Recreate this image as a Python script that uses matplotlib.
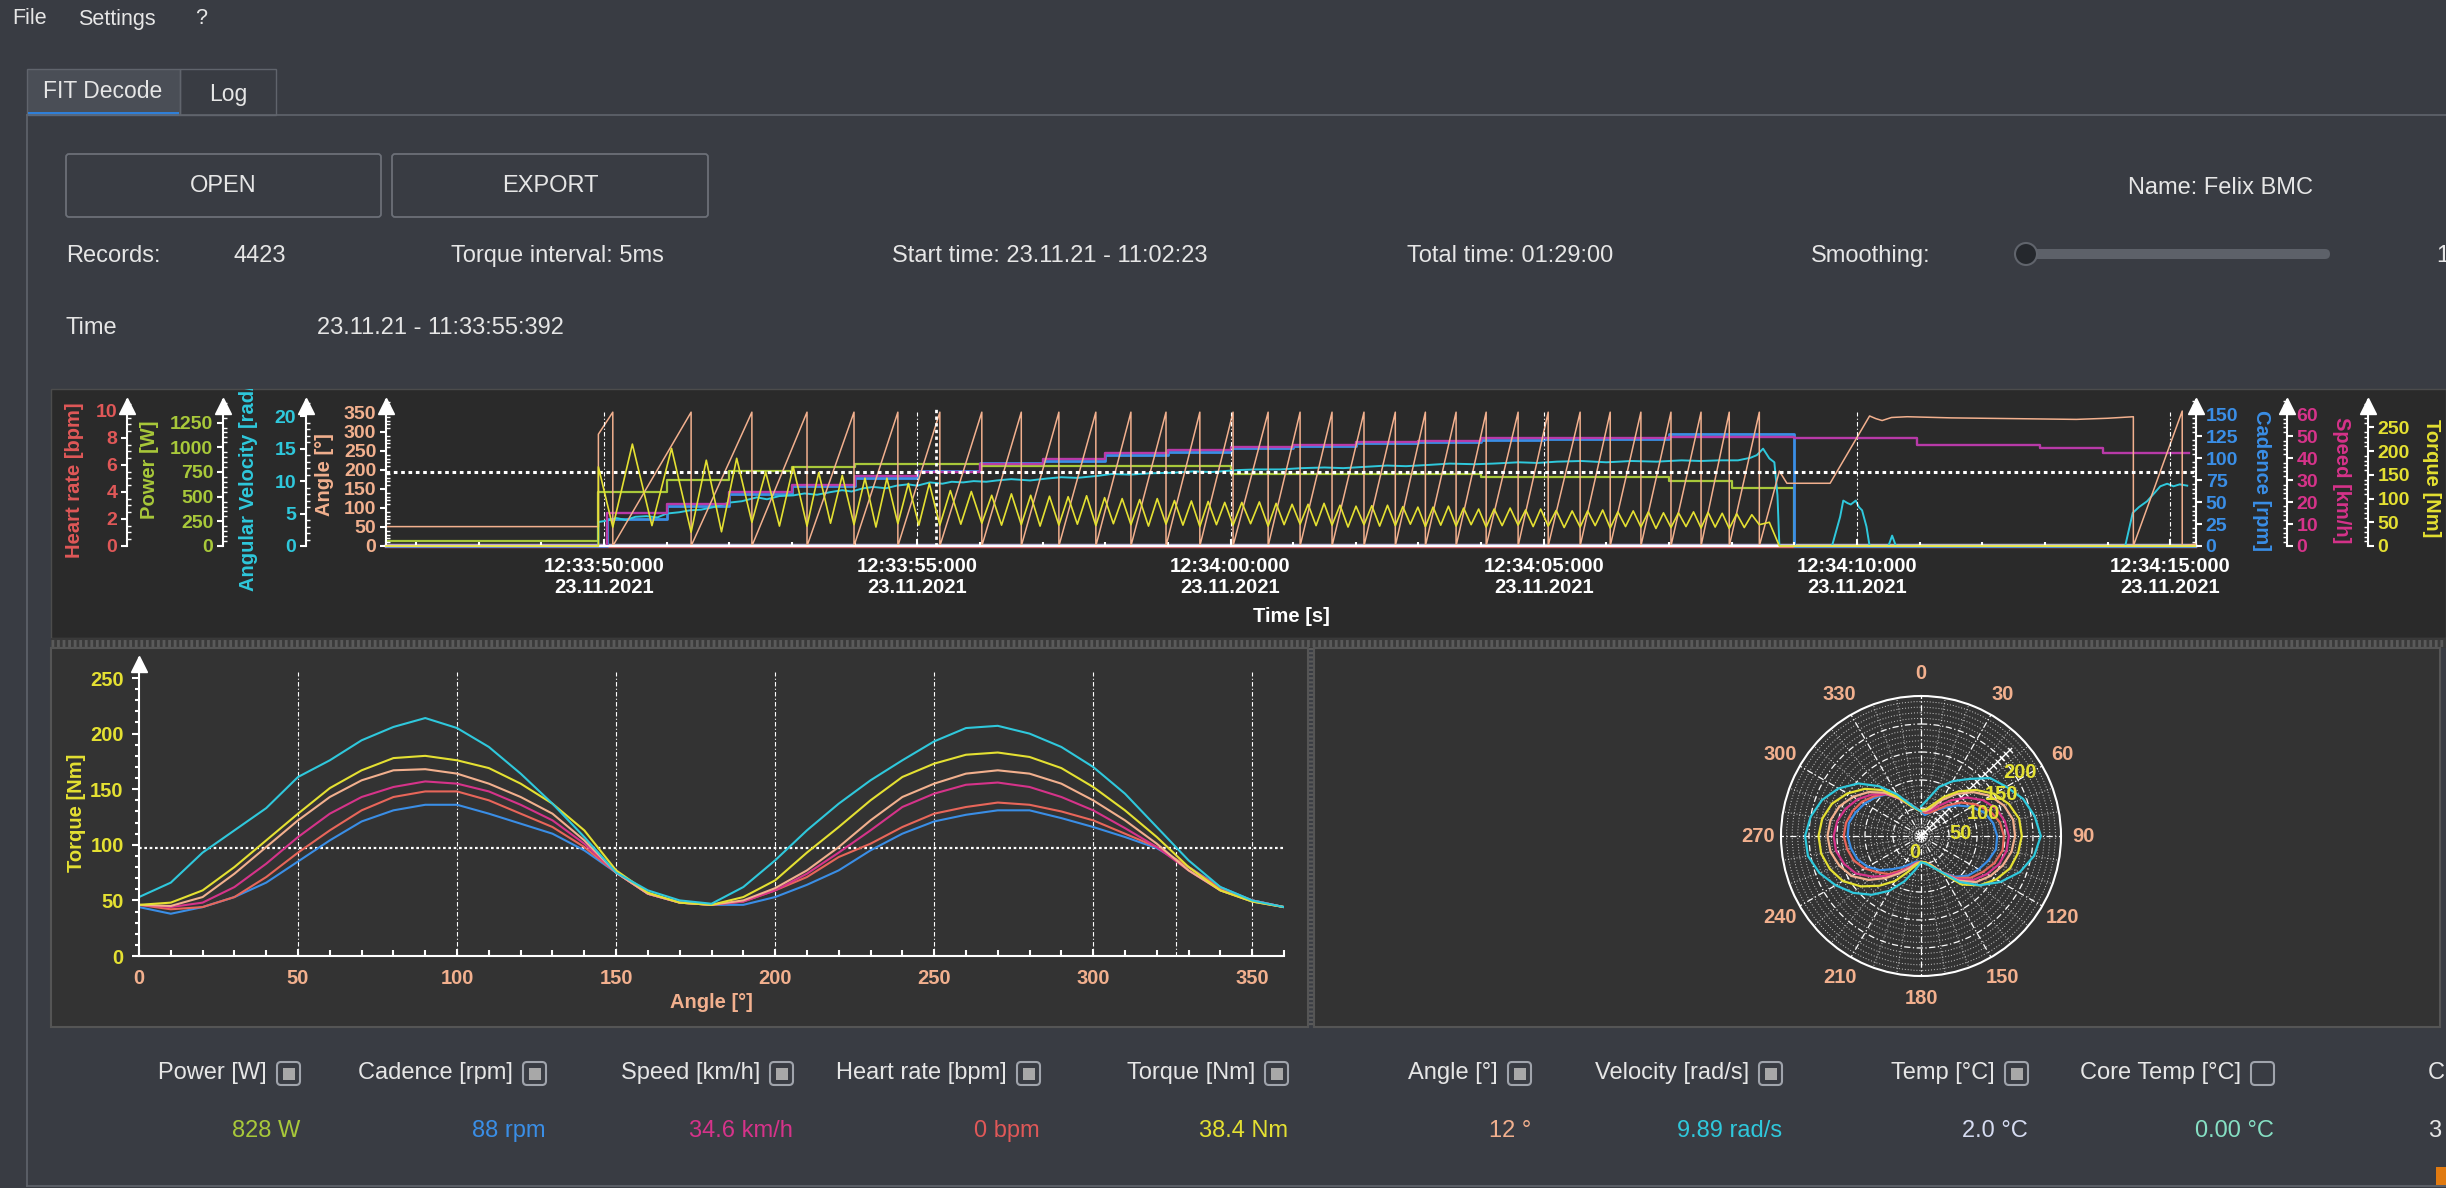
import numpy as np
import matplotlib
matplotlib.use("Agg")
import matplotlib.pyplot as plt
from matplotlib.patches import Rectangle, FancyBboxPatch, Circle
from matplotlib.ticker import MultipleLocator, FixedLocator
from matplotlib.transforms import Bbox, TransformedBbox

W, H = 2446, 1188

# ---------------- data ----------------
# time axis: seconds after 12:33:50
t_major = [0, 5, 10, 15, 20, 25]
t_labels = ["12:33:50:000\n23.11.2021", "12:33:55:000\n23.11.2021", "12:34:00:000\n23.11.2021",
            "12:34:05:000\n23.11.2021", "12:34:10:000\n23.11.2021", "12:34:15:000\n23.11.2021"]
t_min, t_max = -3.48, 25.41

# crank angle resets (end of each revolution)
rev_t = [0.14, 1.39, 2.36, 3.24, 3.99, 4.69, 5.36, 6.03, 6.66, 7.26, 7.85, 8.41, 8.97, 9.51,
         10.04, 10.60, 11.11, 11.62, 12.13, 12.63, 13.11, 13.60, 14.08, 14.59, 15.07, 15.58,
         16.06, 16.55, 17.03, 17.51, 17.96, 18.44]
angle_top = 352
angle_head_t = [t_min, -0.09, -0.09, 0.14]
angle_head_v = [51, 51, 294, angle_top]
angle_tail_t = [18.44, 18.76, 18.88, 19.57, 20.2, 20.3, 20.4, 20.55, 20.8, 21.5, 22.5, 23.5,
                24.0, 24.41, 24.41, 25.19, 25.19, 25.4]
angle_tail_v = [0, 197, 165, 165, 342, 335, 330, 338, 340, 337, 335, 333, 336, 340, 0, 355, 0, 5]

# torque in the time chart: two peaks and two troughs per revolution
torque_peaks = [215, 206, 181, 185, 156, 167, 155, 149, 143, 143, 132, 132, 117, 115, 107, 110,
                107, 105, 104, 106, 102, 100, 98, 100, 96, 95, 94, 92, 92, 93, 90, 88, 88, 90,
                86, 84, 85, 86, 83, 82, 82, 84, 80, 78, 78, 80, 76, 78, 75, 74, 74, 76, 72, 74,
                72, 70, 70, 72, 71, 69, 68, 66]
torque_troughs = [40, 43, 29, 30, 50, 42, 42, 48, 45, 40, 47, 44, 44, 46, 48, 44, 45, 42, 44, 46,
                  43, 47, 45, 42, 46, 44, 41, 45, 44, 47, 42, 45, 46, 43, 44, 40, 45, 42, 43, 46,
                  41, 44, 42, 45, 40, 43, 44, 41, 42, 39, 40, 43, 38, 41, 40, 37, 39, 41, 38, 40,
                  37, 39]
torque_head_t = [t_min, -0.09, -0.09]
torque_head_v = [0, 0, 167]
torque_tail_t = [18.44, 18.6, 18.76, 25.4]
torque_tail_v = [45, 50, 0, 0]

# 1 s records
cad_t = [t_min, 0.04, 1, 2, 3, 4, 5, 6, 7, 8, 9, 10, 11, 12, 13, 14, 15, 16, 17, 18, 19, 25.4]
cad_v = [0, 31, 46, 59, 68, 77, 85, 94, 97, 104, 107, 111, 114, 117, 118, 120, 122, 122, 127, 127, 0, 0]
speed_t = [t_min, 0.04, 1, 2, 3, 4, 5, 6, 7, 8, 9, 10, 11, 12, 13, 14, 15, 17, 19, 20.96, 22.92, 23.93, 25.3]
speed_v = [0, 15.1, 19.2, 24.5, 27.9, 32.1, 33.9, 37.4, 39.7, 42.3, 43.5, 45.0, 46.2, 47.3, 48.0, 49.0,
           49.3, 49.5, 49.1, 45.8, 44.6, 42.5, 42.5]
power_t = [t_min, -0.09, 1, 2, 3, 4, 6, 10, 14, 17, 18, 19, 25.4]
power_v = [55, 543, 670, 761, 801, 835, 811, 730, 694, 660, 590, 0, 0]
hr_t = [t_min, 25.4]
hr_v = [0, 0]
temp_t = [t_min, 25.4]
temp_v = [2.0, 2.0]

av_t = [t_min, -0.09, -0.09, 0.04, 0.2, 0.35, 0.5, 0.68, 0.85, 1.0, 1.2, 1.37, 1.55, 1.75, 2.01, 2.2,
        2.44, 2.6, 2.8, 3.02, 3.2, 3.4, 3.61, 3.8, 3.95, 4.14, 4.3, 4.5, 4.67, 4.85, 5.0, 5.2, 5.4,
        5.55, 5.73, 5.9, 6.1, 6.27, 6.5, 6.8, 7.07, 7.3, 7.55, 7.87, 8.1, 8.4, 8.7, 9.1, 9.4, 9.7,
        10.12, 10.4, 10.8, 11.14, 11.5, 11.8, 12.15, 12.5, 12.8, 13.17, 13.5, 13.9, 14.19, 14.6,
        14.9, 15.21, 15.6, 16.0, 16.4, 16.8, 17.2, 17.5, 17.8, 18.1, 18.3, 18.4, 18.5, 18.6, 18.68,
        18.73, 18.76, 19.6, 19.73, 19.78, 19.85, 19.9, 19.98, 20.03, 20.08, 20.15, 20.2, 20.5,
        20.56, 20.62, 24.28, 24.4, 24.5, 24.63, 24.75, 24.84, 24.95, 25.05, 25.15, 25.27]
av_v = [0, 0, 3.7, 3.9, 4.3, 4.0, 4.5, 4.6, 4.4, 5.0, 5.2, 5.5, 5.6, 6.0, 6.7, 6.9,
        7.5, 7.2, 7.7, 7.8, 8.1, 7.9, 8.3, 8.6, 8.4, 8.9, 9.1, 8.9, 9.3, 9.5, 9.3, 9.8, 9.6,
        9.9, 9.8, 10.0, 9.9, 10.1, 10.3, 10.1, 10.4, 10.6, 10.5, 10.8, 11.1, 11.0, 11.2, 11.3, 11.5, 11.4,
        11.7, 11.8, 11.8, 12.0, 12.1, 12.0, 12.2, 12.4, 12.3, 12.5, 12.7, 12.6, 12.7, 12.9,
        12.8, 13.0, 13.1, 12.9, 13.1, 13.0, 13.2, 13.1, 13.2, 13.2, 13.6, 14.0, 15.0, 13.5, 12.9,
        7.8, 0, 0, 4.5, 7.0, 6.6, 6.4, 7.0, 6.0, 5.5, 3.0, 0, 0,
        1.6, 0, 0, 5.1, 6.0, 6.9, 8.2, 9.2, 9.6, 9.2, 9.5, 9.3]

cross_t, cross_angle = 5.3, 194

# torque over crank angle (one curve per revolution)
crank_deg = list(range(0, 361, 10))
tq_cyan = [53, 66, 93, 113, 133, 161, 176, 194, 206, 214, 205, 188, 164, 137, 107, 75, 59, 50, 47,
           62, 86, 113, 137, 158, 176, 193, 205, 207, 200, 188, 170, 146, 116, 86, 62, 50, 44]
tq_yellow = [46, 48, 59, 80, 104, 128, 151, 167, 178, 180, 176, 169, 155, 137, 113, 77, 57, 48, 46,
             53, 68, 93, 116, 140, 161, 173, 181, 183, 179, 169, 152, 131, 107, 80, 59, 49, 44]
tq_peach = [46, 45, 53, 74, 98, 122, 143, 158, 167, 168, 164, 155, 143, 128, 104, 75, 56, 48, 46,
            50, 61, 77, 98, 122, 143, 155, 164, 167, 164, 155, 140, 122, 101, 77, 59, 49, 44]
tq_magenta = [46, 44, 48, 62, 83, 107, 128, 143, 152, 157, 155, 148, 136, 122, 101, 75, 56, 48, 46,
              49, 59, 74, 93, 113, 134, 146, 154, 156, 152, 143, 131, 115, 98, 77, 59, 50, 44]
tq_red = [46, 42, 44, 53, 71, 93, 113, 131, 143, 148, 148, 140, 128, 116, 98, 75, 56, 48, 46,
          49, 59, 71, 89, 101, 116, 128, 134, 138, 136, 130, 122, 110, 98, 80, 61, 50, 44]
tq_blue = [44, 38, 44, 53, 66, 85, 104, 121, 131, 136, 136, 128, 119, 110, 95, 75, 56, 48, 46,
           46, 53, 64, 77, 95, 110, 121, 127, 131, 131, 124, 116, 107, 97, 80, 62, 50, 44]
cross_deg, cross_torque = 326, 97

# polar radial labels (value, label angle, label radius)
polar_r_ticks = [0, 50, 100, 150, 200]
polar_r_label_deg = [199, 86, 70, 63, 57.5]
polar_r_label_r = [32, 70, 118, 162, 210]

# bottom value row
legend_names = ["Power [W]", "Cadence [rpm]", "Speed [km/h]", "Heart rate [bpm]", "Torque [Nm]",
                "Angle [°]", "Velocity [rad/s]", "Temp [°C]", "Core Temp [°C]"]
legend_values = ["828 W", "88 rpm", "34.6 km/h", "0 bpm", "38.4 Nm", "12 °", "9.89 rad/s",
                 "2.0 °C", "0.00 °C"]
legend_checked = [True, True, True, True, True, True, True, True, False]

# ---------------- style ----------------
GUI_BG = "#393c43"
TOP_BG = "#2a2a2a"
BOT_BG = "#333333"
TXT = "#e6e6e6"
RED = "#e05858"
GREEN = "#a8c83a"
CYAN = "#2fc8dc"
PEACH = "#f2b08e"
BLUE = "#3a8ee6"
MAGENTA = "#d6338a"
YELLOW = "#e4e032"
LAV = "#b8b2d6"
MINT = "#86e0c4"
value_colors = [GREEN, BLUE, MAGENTA, RED, YELLOW, PEACH, CYAN, "#d6dcf2", MINT]
FS = 14.5

plt.rcParams["font.family"] = ["Liberation Sans", "DejaVu Sans"]
plt.rcParams["font.weight"] = "bold"

fig = plt.figure(figsize=(W / 100, H / 100), dpi=100, facecolor=GUI_BG)

# pixel canvas for the window chrome
bg = fig.add_axes([0, 0, 1, 1])
bg.set_xlim(0, W)
bg.set_ylim(H, 0)
bg.axis("off")
bg.set_zorder(-5)


def rect(x0, y0, x1, y1):
    return [x0 / W, 1 - y1 / H, (x1 - x0) / W, (y1 - y0) / H]


def box(x0, y0, x1, y1, **kw):
    bg.add_patch(Rectangle((x0, y0), x1 - x0, y1 - y0, **kw))


def gui_text(x, y, s, size=17, color=TXT, **kw):
    bg.text(x, y, s, fontsize=size, color=color, va="center", fontweight="normal", **kw)


def bold_ticks(a):
    for lbl in a.get_xticklabels() + a.get_yticklabels():
        lbl.set_fontweight("bold")


# menu + tabs
gui_text(12, 19, "File", size=15.5)
gui_text(78, 19, "Settings", size=15.5)
gui_text(195, 19, "?", size=15.5)
box(27, 69, 180, 115, fc="#4a4e56", ec="#60646c", lw=1)
box(28, 112, 179, 116, fc="#2f7fd8", ec="none")
box(180, 69, 276, 115, fc="none", ec="#60646c", lw=1)
gui_text(103, 92, "FIT Decode", size=16.5, ha="center")
gui_text(228, 94, "Log", size=16.5, ha="center")
bg.plot([27, W], [115, 115], color="#60646c", lw=1.2)
bg.plot([27, 27], [115, 1186], color="#60646c", lw=1.2)
bg.plot([27, W], [1186, 1186], color="#60646c", lw=1.2)

# buttons
for x0, x1, s in [(66, 381, "OPEN"), (392, 708, "EXPORT")]:
    bg.add_patch(FancyBboxPatch((x0, 154), x1 - x0, 63, boxstyle="round,pad=0,rounding_size=3",
                                fc=GUI_BG, ec="#6c7078", lw=1.3))
    gui_text((x0 + x1) / 2, 186, s, ha="center")

gui_text(2128, 188, "Name: Felix BMC")
gui_text(66, 256, "Records:")
gui_text(233, 256, "4423")
gui_text(451, 256, "Torque interval: 5ms")
gui_text(892, 256, "Start time: 23.11.21 - 11:02:23")
gui_text(1407, 256, "Total time: 01:29:00")
gui_text(1811, 256, "Smoothing:")
gui_text(2436, 256, "1")
gui_text(66, 328, "Time")
gui_text(317, 328, "23.11.21 - 11:33:55:392")
bg.add_patch(FancyBboxPatch((2026, 249), 304, 10, boxstyle="round,pad=0,rounding_size=5",
                            fc="#5d6169", ec="none"))
bg.add_patch(Circle((2026, 254), 11, fc="#25282d", ec="#60646c", lw=1.5))

# chart panels
box(51, 389, 2446, 638, fc=TOP_BG, ec="#4c4c4c", lw=1)
box(51, 638, 2446, 648, fc="#3a3a3a", ec="none")
bg.plot([51, 2446], [643, 643], color="#5a5a5a", lw=5, ls=(0, (0.4, 0.4)))
box(51, 648, 1308, 1027, fc=BOT_BG, ec="#555555", lw=1.5)
box(1314, 648, 2440, 1027, fc=BOT_BG, ec="#555555", lw=1.5)
bg.plot([1311, 1311], [648, 1027], color="#5a5a5a", lw=3, ls=(0, (0.5, 0.5)))

# value row
label_right = [267, 513, 760, 1007, 1255, 1498, 1749, 1995, 2241]
for i, name in enumerate(legend_names):
    cb = label_right[i] + 10
    gui_text(label_right[i], 1073, name, ha="right")
    bg.add_patch(FancyBboxPatch((cb, 1062), 23, 23, boxstyle="round,pad=0,rounding_size=4",
                                fc="none", ec="#a0a4ac", lw=1.5))
    if legend_checked[i]:
        box(cb + 5.5, 1067.5, cb + 17.5, 1079.5, fc="#a8a8a8", ec="none")
    gui_text(cb + 23, 1131, legend_values[i], ha="right", color=value_colors[i])
gui_text(2428, 1073, "C")
gui_text(2428, 1131, "3")
box(2436, 1167, 2446, 1185, fc="#e07a10", ec="none")

# ---------------- top chart: time series ----------------
L, R, TOP, BOT = 386, 2196, 400, 546
main_rect = rect(L, TOP, R, BOT)
panel_clip = TransformedBbox(Bbox.from_extents(51, 389, 2446, 638), bg.transData)


def frac(x):
    return (x - L) / (R - L)


ax_ang = fig.add_axes(main_rect, facecolor="none")
ax_ang.set_xlim(t_min, t_max)


def twin(side, xpos, color, top, ticks, minor, label, lab_xy, hidden=False):
    a = ax_ang if side is None else fig.add_axes(main_rect, sharex=ax_ang, facecolor="none")
    if side is None:
        side = "left"
    for sp in a.spines.values():
        sp.set_visible(False)
    a.set_ylim(0, top)
    a.tick_params(axis="x", which="both", bottom=False, labelbottom=False)
    if hidden:
        a.set_yticks([])
        return a
    sp = a.spines[side]
    sp.set_visible(True)
    sp.set_color("white")
    sp.set_linewidth(1.5)
    sp.set_position(("axes", frac(xpos)))
    if side == "right":
        a.yaxis.tick_right()
        a.yaxis.set_label_position("right")
    else:
        a.yaxis.tick_left()
    a.yaxis.set_major_locator(FixedLocator(ticks))
    a.yaxis.set_minor_locator(FixedLocator(np.arange(0, top, minor)))
    a.tick_params(axis="y", which="major", colors="white", labelcolor=color, direction="out",
                  length=4, width=1.5, labelsize=14, pad=3)
    a.tick_params(axis="y", which="minor", colors="white", direction="in", length=3, width=1)
    lbl = a.set_ylabel(label, color=color, fontsize=FS, fontweight="bold", va="center",
                       ha="center", rotation=90 if side == "left" else 270)
    a.yaxis.set_label_coords(frac(lab_xy[0]), (BOT - lab_xy[1]) / (BOT - TOP))
    lbl.set_clip_box(panel_clip)
    lbl.set_clip_on(True)
    ay = (BOT - (TOP + 6)) / (BOT - TOP)
    a.plot([frac(xpos)], [ay], marker="^", ms=11, color="white", transform=a.transAxes,
           clip_on=False)
    bold_ticks(a)
    return a


ax_hr = twin("left", 127, RED, 10.8, [0, 2, 4, 6, 8, 10], 0.5, "Heart rate [bpm]", (74, 480))
ax_temp = twin("left", 0, LAV, 200, [], 1, "", (0, 0), hidden=True)
ax_pw = twin("left", 223, GREEN, 1479, [0, 250, 500, 750, 1000, 1250], 50, "Power [W]", (150, 470))
ax_av = twin("left", 306, CYAN, 22.5, [0, 5, 10, 15, 20], 1, "Angular Velocity [rad/s]", (248, 479))
ax_sp = twin("right", 2287, MAGENTA, 66.5, [0, 10, 20, 30, 40, 50, 60], 2, "Speed [km/h]", (2342, 480))
ax_cad = twin("right", R, BLUE, 166, [0, 25, 50, 75, 100, 125, 150], 5, "Cadence [rpm]", (2261, 481))
ax_tqt = twin("right", 2368, YELLOW, 308, [0, 50, 100, 150, 200, 250], 10, "Torque [Nm]", (2431, 478))
twin(None, L, PEACH, 384, [0, 50, 100, 150, 200, 250, 300, 350], 10, "Angle [°]", (324, 475))

ax_ang.spines["bottom"].set_visible(True)
ax_ang.spines["bottom"].set_color("white")
ax_ang.spines["bottom"].set_linewidth(1.5)
ax_ang.set_xticks(t_major)
ax_ang.set_xticklabels(t_labels, linespacing=1.15, fontweight="bold")
ax_ang.xaxis.set_minor_locator(MultipleLocator(1))
ax_ang.tick_params(axis="x", which="both", bottom=True, labelbottom=True, colors="white",
                   direction="in", labelsize=FS, pad=8)
ax_ang.tick_params(axis="x", which="major", length=5, width=1.5)
ax_ang.tick_params(axis="x", which="minor", length=3, width=1.5)
ax_ang.set_xlabel("Time [s]", color="white", fontsize=FS, fontweight="bold", va="center")
ax_ang.xaxis.set_label_coords(0.5, (BOT - 617) / (BOT - TOP))

for a, z in [(ax_hr, 1), (ax_temp, 1), (ax_pw, 2), (ax_cad, 2), (ax_sp, 3), (ax_av, 3),
             (ax_ang, 4), (ax_tqt, 5)]:
    a.set_zorder(z)

# series
ax_hr.plot(hr_t, hr_v, color=RED, lw=2.5, clip_on=False)
ax_temp.plot(temp_t, temp_v, color=LAV, lw=2.5, clip_on=False)
ax_pw.step(power_t, power_v, where="post", color=GREEN, lw=1.6, clip_on=False)
ax_cad.step(cad_t, cad_v, where="post", color=BLUE, lw=2.0, clip_on=False)
ax_sp.step(speed_t, speed_v, where="post", color="#b83aa8", lw=1.7, clip_on=False)
ax_av.plot(av_t, av_v, color=CYAN, lw=1.4, clip_on=False)

ang_t = list(angle_head_t)
ang_v = list(angle_head_v)
for i in range(len(rev_t) - 1):
    ang_t += [rev_t[i], rev_t[i + 1]]
    ang_v += [0, angle_top]
ang_t += angle_tail_t
ang_v += angle_tail_v
ax_ang.plot(ang_t, ang_v, color=PEACH, lw=1.1, clip_on=False)

tq_t = list(torque_head_t)
tq_v = list(torque_head_v)
for i in range(len(rev_t) - 1):
    t0, t1 = rev_t[i], rev_t[i + 1]
    d = t1 - t0
    tq_t += [t0, t0 + 0.25 * d, t0 + 0.5 * d, t0 + 0.75 * d]
    tq_v += [torque_troughs[2 * i], torque_peaks[2 * i], torque_troughs[2 * i + 1], torque_peaks[2 * i + 1]]
tq_t += torque_tail_t
tq_v += torque_tail_v
ax_tqt.plot(tq_t, tq_v, color=YELLOW, lw=1.2, clip_on=False)

ax_ang.vlines(t_major, 0, 352, colors="white", linestyles=(0, (4, 2, 1, 2)), lw=0.8)
ax_ang.axhline(cross_angle, color="white", ls=(0, (1.2, 1.2)), lw=2.2)
ax_ang.vlines([cross_t], 0, 360, colors="white", linestyles=(0, (1.2, 1.2)), lw=2.0)

# ---------------- bottom left: torque vs angle ----------------
ax_tq = fig.add_axes(rect(139, 658, 1284, 956), facecolor="none")
ax_tq.set_xlim(0, 360)
ax_tq.set_ylim(0, 268)
for s in ["top", "right"]:
    ax_tq.spines[s].set_visible(False)
for s in ["left", "bottom"]:
    ax_tq.spines[s].set_color("white")
    ax_tq.spines[s].set_linewidth(1.5)
ax_tq.xaxis.set_major_locator(MultipleLocator(50))
ax_tq.xaxis.set_minor_locator(MultipleLocator(10))
ax_tq.yaxis.set_major_locator(FixedLocator([0, 50, 100, 150, 200, 250]))
ax_tq.yaxis.set_minor_locator(FixedLocator(np.arange(0, 268, 10)))
ax_tq.tick_params(axis="x", which="both", colors="white", labelcolor=PEACH, direction="in",
                  labelsize=FS, pad=9, width=1.5)
ax_tq.tick_params(axis="x", which="major", length=5)
ax_tq.tick_params(axis="x", which="minor", length=4)
ax_tq.tick_params(axis="y", which="both", colors="white", labelcolor=YELLOW, direction="out",
                  labelsize=FS, pad=6, width=1.5)
ax_tq.tick_params(axis="y", which="major", length=5)
ax_tq.tick_params(axis="y", which="minor", length=3)
bold_ticks(ax_tq)
ax_tq.set_xlabel("Angle [°]", color=PEACH, fontsize=FS, fontweight="bold", va="center")
ax_tq.xaxis.set_label_coords(0.5, (956 - 1003) / (956 - 658))
ax_tq.set_ylabel("Torque [Nm]", color=YELLOW, fontsize=FS, fontweight="bold", va="center")
ax_tq.yaxis.set_label_coords((76 - 139) / (1284 - 139), (956 - 813) / (956 - 658))
ax_tq.plot([0], [(956 - 664) / (956 - 658)], marker="^", ms=11, color="white",
           transform=ax_tq.transAxes, clip_on=False)
ax_tq.vlines([50, 100, 150, 200, 250, 300, 350], 0, 255, colors="white",
             linestyles=(0, (4, 2, 1, 2)), lw=0.8)
ax_tq.vlines([cross_deg], 0, cross_torque, colors="white", linestyles=(0, (4, 2, 1, 2)), lw=0.8)
ax_tq.axhline(cross_torque, color="white", ls=(0, (1.2, 1.2)), lw=1.6)

curves = [(tq_blue, BLUE), (tq_red, "#e8665a"), (tq_magenta, MAGENTA), (tq_peach, PEACH),
          (tq_yellow, YELLOW), (tq_cyan, CYAN)]
for vals, col in curves:
    ax_tq.plot(crank_deg, vals, color=col, lw=1.5)

# ---------------- bottom right: polar torque ----------------
ax_p = fig.add_axes(rect(1781, 696, 2061, 976), projection="polar", facecolor="none")
ax_p.set_theta_zero_location("N")
ax_p.set_theta_direction(-1)
ax_p.set_ylim(0, 250)
ax_p.set_thetagrids(np.arange(0, 360, 30), labels=[str(a) for a in range(0, 360, 30)])
ax_p.set_rticks(polar_r_ticks)
ax_p.yaxis.set_minor_locator(MultipleLocator(10))
ax_p.xaxis.set_minor_locator(FixedLocator(np.deg2rad(np.arange(0, 360, 10))))
ax_p.tick_params(axis="x", which="major", labelcolor=PEACH, labelsize=FS, pad=6)
ax_p.tick_params(axis="y", which="both", labelleft=False, labelright=False, length=0)
ax_p.tick_params(axis="x", which="minor", colors="white", length=4, width=1.2)
bold_ticks(ax_p)
ax_p.grid(True, which="major", color="white", lw=0.9, ls=(0, (5, 2, 1, 2)))
ax_p.grid(True, which="minor", color="white", lw=0.7, ls=(0, (1, 2)), alpha=0.75)
ax_p.spines["polar"].set_color("white")
ax_p.spines["polar"].set_linewidth(1.5)
# radial ruler with its labels
ruler_deg = 46
ax_p.plot([np.deg2rad(ruler_deg)] * 2, [0, 225], color="white", lw=1.0)
ax_p.plot([np.deg2rad(ruler_deg)] * 22, np.arange(10, 230, 10), ls="none", color="white",
          marker=(2, 0, 90 - ruler_deg), ms=5, mew=1.0)
for v, d, r in zip(polar_r_ticks, polar_r_label_deg, polar_r_label_r):
    ax_p.text(np.deg2rad(d), r, str(v), color=YELLOW, fontsize=FS, fontweight="bold",
              ha="center", va="center", zorder=5)
for vals, col in curves:
    ax_p.plot(np.deg2rad(crank_deg), vals, color=col, lw=1.6)

fig.savefig("out.png", dpi=100, facecolor=GUI_BG)
